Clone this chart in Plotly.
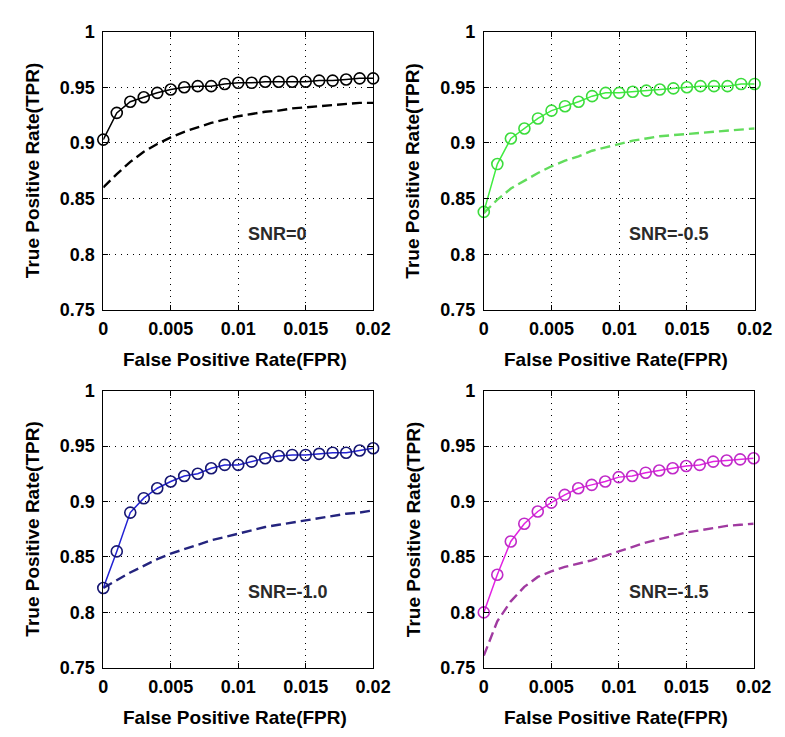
import plotly.graph_objects as go

# ---------------- data ----------------
fpr = [0.000, 0.001, 0.002, 0.003, 0.004, 0.005, 0.006, 0.007, 0.008, 0.009, 0.010,
       0.011, 0.012, 0.013, 0.014, 0.015, 0.016, 0.017, 0.018, 0.019, 0.020]

x_tick_vals = [0, 0.005, 0.01, 0.015, 0.02]
x_tick_text = ["0", "0.005", "0.01", "0.015", "0.02"]
y_tick_vals = [0.75, 0.8, 0.85, 0.9, 0.95, 1.0]
y_tick_text = ["0.75", "0.8", "0.85", "0.9", "0.95", "1"]

snr_labels = ["SNR=0", "SNR=-0.5", "SNR=-1.0", "SNR=-1.5"]

tpr_snr0_circle = [0.903, 0.927, 0.937, 0.941, 0.945, 0.948, 0.950, 0.951, 0.951, 0.953, 0.954,
                   0.954, 0.955, 0.955, 0.955, 0.955, 0.956, 0.956, 0.957, 0.958, 0.958]
tpr_snr0_dashed = [0.860, 0.872, 0.883, 0.892, 0.899, 0.905, 0.910, 0.914, 0.918, 0.921, 0.924,
                   0.926, 0.928, 0.929, 0.931, 0.932, 0.933, 0.934, 0.935, 0.936, 0.936]

tpr_snr05_circle = [0.838, 0.881, 0.904, 0.913, 0.922, 0.929, 0.933, 0.937, 0.942, 0.945, 0.945,
                    0.946, 0.947, 0.948, 0.949, 0.950, 0.951, 0.951, 0.951, 0.953, 0.953]
tpr_snr05_dashed = [0.837, 0.849, 0.859, 0.866, 0.873, 0.879, 0.884, 0.888, 0.893, 0.896, 0.899,
                    0.902, 0.904, 0.906, 0.907, 0.908, 0.909, 0.910, 0.911, 0.912, 0.913]

tpr_snr10_circle = [0.822, 0.855, 0.890, 0.903, 0.912, 0.918, 0.923, 0.925, 0.930, 0.933, 0.933,
                    0.936, 0.939, 0.941, 0.942, 0.942, 0.943, 0.944, 0.944, 0.946, 0.948]
tpr_snr10_dashed = [0.822, 0.829, 0.836, 0.842, 0.848, 0.853, 0.857, 0.861, 0.865, 0.868, 0.871,
                    0.874, 0.877, 0.879, 0.881, 0.883, 0.885, 0.887, 0.889, 0.890, 0.892]

tpr_snr15_circle = [0.800, 0.834, 0.864, 0.880, 0.891, 0.899, 0.906, 0.912, 0.915, 0.918, 0.922,
                    0.923, 0.926, 0.928, 0.930, 0.932, 0.933, 0.936, 0.937, 0.938, 0.939]
tpr_snr15_dashed = [0.761, 0.792, 0.810, 0.823, 0.832, 0.837, 0.841, 0.844, 0.847, 0.851, 0.855,
                    0.859, 0.863, 0.866, 0.869, 0.872, 0.874, 0.876, 0.878, 0.879, 0.880]

x_title = "False Positive Rate(FPR)"
y_title = "True Positive Rate(TPR)"

# ---------------- styling ----------------
W, H = 785, 737
FONT = "Liberation Sans, Arial, sans-serif"

# plot-area boxes in pixels (left, right, top, bottom)
boxes = [(93, 371, 14, 300), (485, 764, 14, 300), (93, 371, 383, 668), (485, 763, 383, 668)]

panels = [
    dict(circle=tpr_snr0_circle, dashed=tpr_snr0_dashed,
         line="#000000", marker="#000000", dash="#000000"),
    dict(circle=tpr_snr05_circle, dashed=tpr_snr05_dashed,
         line="#40ec40", marker="#3cdc3c", dash="#62dc5c"),
    dict(circle=tpr_snr10_circle, dashed=tpr_snr10_dashed,
         line="#2222d4", marker="#161672", dash="#24247e"),
    dict(circle=tpr_snr15_circle, dashed=tpr_snr15_dashed,
         line="#e222e2", marker="#c02ac8", dash="#a03aa0"),
]

fig = go.Figure()
layout = dict(width=W, height=H, margin=dict(l=0, r=0, t=0, b=0),
              paper_bgcolor="white", plot_bgcolor="white", showlegend=False,
              annotations=[])

for i, (p, box) in enumerate(zip(panels, boxes)):
    n = "" if i == 0 else str(i + 1)
    xa, ya = "x" + n, "y" + n
    fig.add_trace(go.Scatter(x=fpr, y=p["dashed"], mode="lines", xaxis=xa, yaxis=ya,
                             line=dict(color=p["dash"], width=2.4, dash="10px,5px"),
                             cliponaxis=False))
    fig.add_trace(go.Scatter(x=fpr, y=p["circle"], mode="lines+markers", xaxis=xa, yaxis=ya,
                             line=dict(color=p["line"], width=1.5),
                             marker=dict(symbol="circle-open", size=11,
                                         color=p["marker"], line=dict(width=1.6, color=p["marker"])),
                             cliponaxis=False))
    l, r, t, b = box
    xdom = [l / W, r / W]
    ydom = [1 - b / H, 1 - t / H]
    common = dict(showline=True, linecolor="black", linewidth=1, mirror="ticks",
                  ticks="inside", ticklen=5, tickcolor="black",
                  showgrid=True, gridcolor="black", gridwidth=1, griddash="1px,5px",
                  zeroline=False,
                  tickfont=dict(family=FONT, size=18, color="black", weight="bold"))
    layout["xaxis" + n] = dict(common, domain=xdom, anchor=ya, range=[0, 0.02],
                               tickvals=x_tick_vals, ticktext=x_tick_text, ticklabelstandoff=3)
    layout["yaxis" + n] = dict(common, domain=ydom, anchor=xa, range=[0.75, 1.0],
                               tickvals=y_tick_vals, ticktext=y_tick_text, ticklabelstandoff=4)
    # axis titles
    layout["annotations"].append(dict(
        text=x_title, xref="paper", yref="paper", x=(l + r) / 2 / W - 3 / W, y=1 - (b + 51) / H,
        xanchor="center", yanchor="middle", showarrow=False,
        font=dict(family=FONT, size=19, color="black", weight="bold")))
    layout["annotations"].append(dict(
        text=y_title, xref="paper", yref="paper", x=(l - 73) / W, y=1 - (t + b) / 2 / H,
        xanchor="center", yanchor="middle", textangle=-90, showarrow=False,
        font=dict(family=FONT, size=19, color="black", weight="bold")))
    # SNR label
    layout["annotations"].append(dict(
        text=snr_labels[i], xref=xa, yref=ya, x=0.0106, y=0.818,
        xanchor="left", yanchor="middle", showarrow=False,
        font=dict(family=FONT, size=18, color="#2a2a2a", weight="bold")))

fig.update_layout(**layout)
fig.write_html("out.html")
